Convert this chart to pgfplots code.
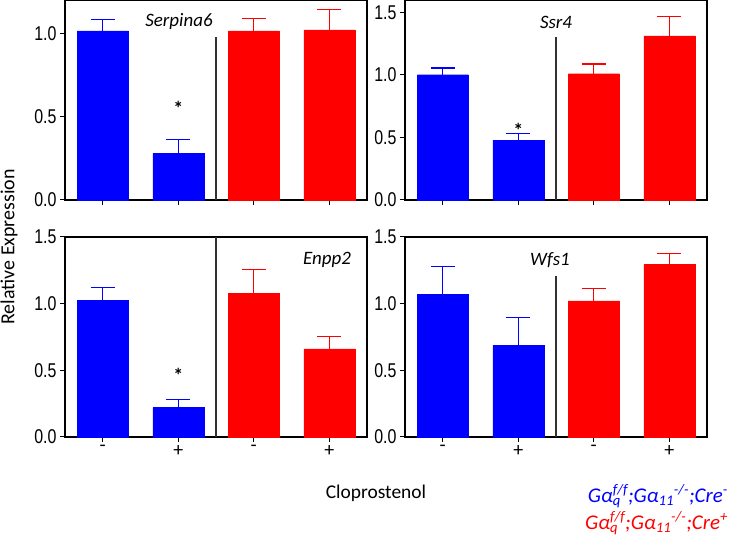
\documentclass[border=0pt]{standalone}
\usepackage{fontspec}
\setmainfont{Carlito}
\newfontfamily\narrowfont[FakeStretch=0.8]{Liberation Sans}
\usepackage{pgfplots}
\pgfplotsset{compat=1.18}
\definecolor{pblue}{RGB}{0,0,255}
\definecolor{pred}{RGB}{255,0,0}
\definecolor{divgray}{RGB}{50,50,50}
\tikzset{sigstar/.style={font=\bfseries\fontsize{20}{20}\selectfont, inner sep=0pt}}
\pgfplotsset{
 panel/.style={
  scale only axis, width=302bp, height=200bp, anchor=south west,
  xmin=-0.5, xmax=3.5, ymin=0,
  xtick={0,1,2,3}, xticklabels={},
  axis line style={line width=1.3bp},
  tick style={line width=1bp, black},
  tick align=outside, major tick length=5bp, tick pos=left,
  /pgf/number format/assume math mode=true,
  yticklabel style={font=\narrowfont\fontsize{20}{22}\selectfont, /pgf/number format/.cd, fixed, fixed zerofill, precision=1},
  xticklabel style={font=\fontsize{20}{22}\selectfont},
  ybar, bar width=51bp, bar shift=0pt,
  clip=false,
 },
 bbar/.style={fill=pblue, draw=pblue, error bars/.cd, y dir=plus, y explicit, error mark=|,
   error bar style={line width=1.1bp, pblue}, error mark options={line width=1.1bp, mark size=12bp, pblue}},
 rbar/.style={fill=pred, draw=pred, error bars/.cd, y dir=plus, y explicit, error mark=|,
   error bar style={line width=1.1bp, pred}, error mark options={line width=1.1bp, mark size=12bp, pred}},
}
\newcommand{\geno}[1]{Gα\rlap{\textsubscript{q}}\textsuperscript{f/f};Gα\textsubscript{11}\textsuperscript{-/-};Cre\textsuperscript{#1}}
\begin{document}
\begin{tikzpicture}
\useasboundingbox (0,0) rectangle (730bp,543bp);
% Top-left: Serpina6
\begin{axis}[panel, at={(65bp,343bp)}, ymax=1.2, ytick={0,0.5,1.0}]
\addplot[bbar] coordinates {(0,1.014) +- (0,0.070) (1,0.279) +- (0,0.084)};
\addplot[rbar] coordinates {(2,1.014) +- (0,0.074) (3,1.020) +- (0,0.123)};
\draw[divgray, line width=1.1bp] (axis cs:1.5,0) -- (axis cs:1.5,0.976);
\node[sigstar] at (axis cs:1,0.55) {*};
\node[font=\itshape\fontsize{19}{20}\selectfont] at (axis cs:1.01,1.07) {Serpina6};
\end{axis}
% Top-right: Ssr4
\begin{axis}[panel, at={(405bp,343bp)}, ymax=1.6, ytick={0,0.5,1.0,1.5}]
\addplot[bbar] coordinates {(0,1.002) +- (0,0.054) (1,0.478) +- (0,0.054)};
\addplot[rbar] coordinates {(2,1.010) +- (0,0.078) (3,1.313) +- (0,0.154)};
\draw[divgray, line width=1.1bp] (axis cs:1.5,0) -- (axis cs:1.5,1.30);
\node[sigstar] at (axis cs:1,0.56) {*};
\node[font=\itshape\fontsize{19}{20}\selectfont] at (axis cs:1.5,1.417) {Ssr4};
\end{axis}
% Bottom-left: Enpp2
\begin{axis}[panel, at={(65bp,106bp)}, ymax=1.5, ytick={0,0.5,1.0,1.5}, xticklabels={-,+,-,+}]
\addplot[bbar] coordinates {(0,1.025) +- (0,0.095) (1,0.220) +- (0,0.060)};
\addplot[rbar] coordinates {(2,1.075) +- (0,0.180) (3,0.660) +- (0,0.093)};
\draw[divgray, line width=1.1bp] (axis cs:1.5,0) -- (axis cs:1.5,1.5);
\node[sigstar] at (axis cs:1,0.46) {*};
\node[font=\itshape\fontsize{19}{20}\selectfont] at (axis cs:2.97,1.33) {Enpp2};
\end{axis}
% Bottom-right: Wfs1
\begin{axis}[panel, at={(405bp,106bp)}, ymax=1.5, ytick={0,0.5,1.0,1.5}, xticklabels={-,+,-,+}]
\addplot[bbar] coordinates {(0,1.070) +- (0,0.210) (1,0.688) +- (0,0.207)};
\addplot[rbar] coordinates {(2,1.020) +- (0,0.095) (3,1.293) +- (0,0.080)};
\draw[divgray, line width=1.1bp] (axis cs:1.5,0) -- (axis cs:1.5,1.21);
\node[font=\itshape\fontsize{19}{20}\selectfont] at (axis cs:1.42,1.33) {Wfs1};
\end{axis}
\node[rotate=90, font=\fontsize{20}{22}\selectfont] at (9bp,296bp) {Relative Expression};
\node[font=\fontsize{19.5}{22}\selectfont] at (376bp,50bp) {Cloprostenol};
\node[anchor=east, inner sep=1bp, text=pblue, font=\itshape\fontsize{21}{22}\selectfont] at (729bp,47bp) {\geno{-}};
\node[anchor=east, inner sep=1bp, text=pred, font=\itshape\fontsize{21}{22}\selectfont] at (729bp,20bp) {\geno{+}};
\end{tikzpicture}
\end{document}
